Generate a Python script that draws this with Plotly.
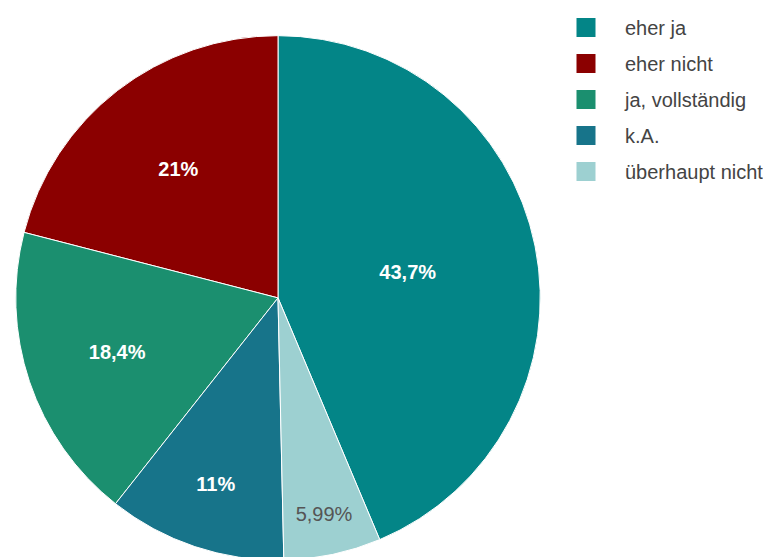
import plotly.graph_objects as go

labels = ["eher ja", "eher nicht", "ja, vollständig", "k.A.", "überhaupt nicht"]
values = [43.7, 21.0, 18.4, 11.0, 5.99]
text_labels = ["<b>43,7%</b>", "<b>21%</b>", "<b>18,4%</b>", "<b>11%</b>", "5,99%"]
colors = ["#038587", "#8b0000", "#1b8f6f", "#17748a", "#9dd0d1"]
text_colors = ["#ffffff", "#ffffff", "#ffffff", "#ffffff", "#555555"]

# page body has an 8px margin; figure coordinates are page - 8
W, H = 763, 557
dom_top, dom_bottom = 12, 552      # figure px, top-down
dom_left, dom_right = 0, 540

fig = go.Figure()
fig.add_trace(go.Pie(
    labels=labels, values=values, text=text_labels,
    textinfo="text", sort=False, direction="counterclockwise",
    rotation=0,
    marker=dict(colors=colors, line=dict(color="white", width=1)),
    textposition="inside", insidetextorientation="horizontal",
    textfont=dict(family="Liberation Sans, Arial", size=20, color=text_colors),
    showlegend=False,
    domain=dict(x=[dom_left / W, dom_right / W],
                y=[(H - dom_bottom) / H, (H - dom_top) / H]),
    hoverinfo="label+text",
))
for lab, col in zip(labels, colors):
    fig.add_trace(go.Scatter(
        x=[None], y=[None], mode="markers", name=lab, legendgroup=lab,
        marker=dict(symbol="square", size=16, color=col, line=dict(color=col, width=3)),
        showlegend=True,
    ))

fig.update_layout(
    width=W, height=H,
    margin=dict(l=0, r=0, t=0, b=0),
    paper_bgcolor="white", plot_bgcolor="white",
    xaxis=dict(visible=False), yaxis=dict(visible=False),
    legend=dict(x=539 / W, y=1.03, xanchor="left", yanchor="top",
                font=dict(family="Liberation Sans, Arial", size=20, color="#444444"),
                tracegroupgap=7, itemwidth=68, bgcolor="rgba(0,0,0,0)"),
)
fig.write_html("out.html")
